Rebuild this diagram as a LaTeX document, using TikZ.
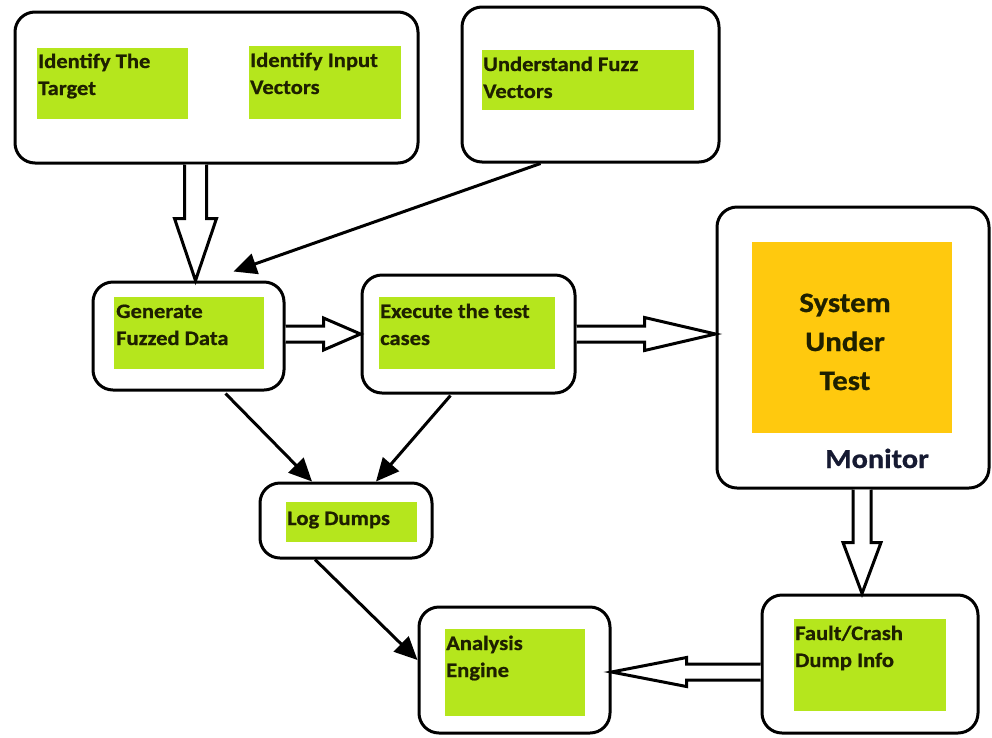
\documentclass[tikz,border=0pt]{standalone}
\usepackage{fontspec}
\setmainfont{Carlito}[FakeStretch=1.1, BoldFeatures={FakeBold=0.8}]
\usetikzlibrary{calc,arrows.meta}
\definecolor{lime}{RGB}{181,230,29}
\definecolor{gold}{RGB}{255,201,14}
\definecolor{txt}{RGB}{30,32,0}
\definecolor{mon}{RGB}{22,26,50}
\newcommand\blockarrow[6]{%
  \coordinate (#1h) at ($(#3)!#4!(#2)$);
  \draw[blockline] ($(#2)!#5!90:(#3)$) -- ($(#1h)!#5!90:(#3)$) -- ($(#1h)!#6!90:(#3)$) -- (#3)
    -- ($(#1h)!#6!-90:(#3)$) -- ($(#1h)!#5!-90:(#3)$) -- ($(#2)!#5!-90:(#3)$);}
\begin{document}
\begin{tikzpicture}[x=1pt,y=-1pt,
  rbox/.style={draw, line width=3pt, rounded corners=20pt, inner sep=0pt, fill=white},
  gfill/.style={fill=lime, inner sep=0pt, anchor=north west},
  gtext/.style={anchor=base west, inner sep=0pt, align=left, text=txt,
    font=\fontsize{20.5}{27}\selectfont\bfseries},
  blockline/.style={line width=3pt, line join=miter, fill=white},
  thin/.style={line width=3pt, -{Triangle[length=23pt,width=21pt]}}]
\useasboundingbox (0,0) rectangle (992,737);
% boxes
\node[rbox, minimum width=403, minimum height=151] (topL) at (216.5,87.5) {};
\node[rbox, minimum width=257, minimum height=155] (topR) at (590.5,84.5) {};
\node[rbox, minimum width=191, minimum height=108] (gen) at (188.5,336) {};
\node[rbox, minimum width=213, minimum height=118] (exe) at (468.5,334) {};
\node[rbox, minimum width=272, minimum height=281] (sut) at (853,347.5) {};
\node[rbox, minimum width=172, minimum height=75] (log) at (346,520.5) {};
\node[rbox, minimum width=191, minimum height=126] (ana) at (514.5,670) {};
\node[rbox, minimum width=216, minimum height=138] (fault) at (870,664) {};
% green labels (base anchor = last line baseline)
\node[gfill, minimum width=151, minimum height=71] (g1) at (37,48) {};
\node[gtext] (t1) at ($(g1.north west)+(1,47)$) {Identify The\\Target};
\node[gfill, minimum width=152, minimum height=73] (g2) at (249,46) {};
\node[gtext] (t2) at ($(g2.north west)+(1,48)$) {Identify Input\\Vectors};
\node[gfill, minimum width=212, minimum height=60] (g3) at (482,50) {};
\node[gtext] (t3) at ($(g3.north west)+(1,48)$) {Understand Fuzz\\Vectors};
\node[gfill, minimum width=150, minimum height=72] (g4) at (114,297) {};
\node[gtext] (t4) at ($(g4.north west)+(2,48)$) {Generate\\Fuzzed Data};
\node[gfill, minimum width=176, minimum height=72] (g5) at (379,297) {};
\node[gtext] (t5) at ($(g5.north west)+(1,48)$) {Execute the test\\cases};
\node[gfill, minimum width=131, minimum height=40] (g6) at (286,502) {};
\node[gtext] (t6) at ($(g6.north west)+(1,23)$) {Log Dumps};
\node[gfill, minimum width=140, minimum height=87] (g7) at (445,629) {};
\node[gtext] (t7) at ($(g7.north west)+(1,48)$) {Analysis\\Engine};
\node[gfill, minimum width=152, minimum height=92] (g8) at (794,619) {};
\node[gtext] (t8) at ($(g8.north west)+(1,48)$) {Fault/Crash\\Dump Info};
% system under test
\node[fill=gold, inner sep=0pt, anchor=north west, minimum width=200, minimum height=191] (or) at (752,242) {};
\node[anchor=base, inner sep=0pt, align=center, text=txt,
  font=\fontsize{28}{39}\selectfont\bfseries] (sutt) at (845,390) {System\\Under\\Test};
\node[anchor=base, inner sep=0pt, text=mon, font=\fontsize{27.5}{33}\selectfont\bfseries] (mon) at (877,468) {Monitor};
% block arrows
\coordinate (b1t) at ($(gen.north)+(7,0)$);
\coordinate (b1s) at (b1t |- topL.south);
\blockarrow{b1}{b1s}{b1t}{62pt}{11pt}{21pt}
\coordinate (b2s) at ($(gen.east)+(0,-2)$);
\coordinate (b2t) at (exe.west);
\blockarrow{b2}{b2s}{b2t}{37pt}{8pt}{16pt}
\coordinate (b3s) at (exe.east);
\coordinate (b3t) at (exe.east -| sut.west);
\blockarrow{b3}{b3s}{b3t}{71pt}{8pt}{16.5pt}
\coordinate (b4s) at ($(sut.south)+(9,0)$);
\coordinate (b4t) at (b4s |- fault.north);
\blockarrow{b4}{b4s}{b4t}{51pt}{9pt}{19pt}
\coordinate (b5t) at ($(ana.east)+(0,2)$);
\coordinate (b5s) at (b5t -| fault.west);
\blockarrow{b5}{b5s}{b5t}{75pt}{8pt}{14.5pt}
% thin arrows
\draw[thin] ($(topR.south)+(-50,0)$) -- ($(gen.north)+(45,-9)$);
\draw[thin] ($(gen.south)+(37,2)$) -- ($(log.north)+(-34,0)$);
\draw[thin] ($(exe.south)+(-18,1)$) -- ($(log.north)+(30,0)$);
\draw[thin] ($(log.south)+(-31,0)$) -- ($(ana.west)+(0,-10)$);
\end{tikzpicture}
\end{document}
